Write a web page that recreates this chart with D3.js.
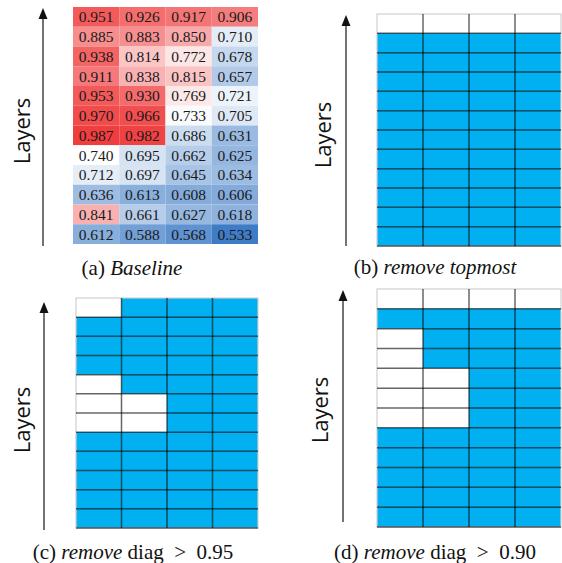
<!DOCTYPE html>
<html>
<head>
<meta charset="utf-8">
<script src="https://cdn.jsdelivr.net/npm/d3@7"></script>
<style>
  body { margin: 0; background: #fff; }
  svg { display: block; }
</style>
</head>
<body>
<div id="app"></div>
<script>
// layers from top (12) to bottom (1), four columns per layer
const layers = [12, 11, 10, 9, 8, 7, 6, 5, 4, 3, 2, 1]
const columns = ['c1', 'c2', 'c3', 'c4']

const col1 = [0.951, 0.885, 0.938, 0.911, 0.953, 0.970, 0.987, 0.740, 0.712, 0.636, 0.841, 0.612]
const col2 = [0.926, 0.883, 0.814, 0.838, 0.930, 0.966, 0.982, 0.695, 0.697, 0.613, 0.661, 0.588]
const col3 = [0.917, 0.850, 0.772, 0.815, 0.769, 0.733, 0.686, 0.662, 0.645, 0.608, 0.627, 0.568]
const col4 = [0.906, 0.710, 0.678, 0.657, 0.721, 0.705, 0.631, 0.625, 0.634, 0.606, 0.618, 0.533]

const thresholds = [0.95, 0.90]
const topmostLayer = 12

const cells = []
layers.forEach((layer, i) => {
  [col1, col2, col3, col4].forEach((col, j) => {
    cells.push({layer, col: columns[j], value: col[i]})
  })
})

const width = 562, height = 563
const svg = d3.select('#app').append('svg')
  .attr('width', width)
  .attr('height', height)

const color = d3.scaleLinear()
  .domain([d3.min(cells, d => d.value), 0.740, d3.max(cells, d => d.value)])
  .range(['#3f7cc6', '#ffffff', '#f03e3f'])
  .clamp(true)

const serif = '"Liberation Serif", "Times New Roman", serif'

const panels = [
  {key: 'a', grid: [73, 258, 7, 244], arrow: [43, 8, 246], label: [22, 131], cap: [132, 275],
    caption: [['(a) ', 'normal'], ['Baseline', 'italic']], heat: true},
  {key: 'b', grid: [377, 561, 14, 246], arrow: [346, 15, 246], label: [323, 135], cap: [435, 274],
    caption: [['(b) ', 'normal'], ['remove topmost', 'italic']], removed: d => d.layer === topmostLayer},
  {key: 'c', grid: [76, 258, 298, 528], arrow: [44, 302, 530], label: [22, 420], cap: [133, 559],
    caption: [['(c) ', 'normal'], ['remove', 'italic'], [' diag\u2002>\u20020.95', 'normal']], removed: d => d.value > thresholds[0]},
  {key: 'd', grid: [377, 561, 289, 527], arrow: [343, 290, 522], label: [320, 410], cap: [435, 559],
    caption: [['(d) ', 'normal'], ['remove', 'italic'], [' diag\u2002>\u20020.90', 'normal']], removed: d => d.value > thresholds[1]}
]

panels.forEach(p => {
  const [x0, x1, y0, y1] = p.grid
  const x = d3.scaleBand().domain(columns).range([x0, x1])
  const y = d3.scaleBand().domain(layers).range([y0, y1])
  const g = svg.append('g').attr('class', 'panel-' + p.key)

  g.selectAll('rect.cell')
    .data(cells)
    .join('rect')
    .attr('class', 'cell')
    .attr('x', d => x(d.col))
    .attr('y', d => y(d.layer))
    .attr('width', x.bandwidth())
    .attr('height', y.bandwidth())
    .attr('fill', d => p.heat ? color(d.value) : (p.removed(d) ? '#ffffff' : '#00b0f0'))

  if (p.heat) {
    g.selectAll('text.val')
      .data(cells)
      .join('text')
      .attr('class', 'val')
      .attr('x', d => x(d.col) + x.bandwidth() / 2)
      .attr('y', d => y(d.layer) + y.bandwidth() / 2)
      .attr('dy', '0.35em')
      .attr('text-anchor', 'middle')
      .style('font-family', serif)
      .style('font-size', '15.5px')
      .attr('fill', '#1a1a1a')
      .text(d => d.value.toFixed(3))
  } else {
    // light outline round the whole grid
    g.append('rect')
      .attr('x', x0).attr('y', y0)
      .attr('width', x1 - x0).attr('height', y1 - y0)
      .attr('fill', 'none').attr('stroke', '#d0d0d0').attr('stroke-width', 1.2)
    // inner grid lines
    g.selectAll('line.v')
      .data(columns.slice(1))
      .join('line')
      .attr('x1', d => x(d)).attr('x2', d => x(d))
      .attr('y1', y0).attr('y2', y1)
      .attr('stroke', '#000').attr('stroke-opacity', 0.6).attr('stroke-width', 1.5)
    g.selectAll('line.h')
      .data(layers.slice(1).concat(['bottom']))
      .join('line')
      .attr('x1', x0).attr('x2', x1)
      .attr('y1', d => d === 'bottom' ? y1 : y(d))
      .attr('y2', d => d === 'bottom' ? y1 : y(d))
      .attr('stroke', '#000').attr('stroke-opacity', 0.6).attr('stroke-width', 1.5)
  }

  // Layers arrow
  const [ax, ayTop, ayBot] = p.arrow
  g.append('line')
    .attr('x1', ax).attr('x2', ax)
    .attr('y1', ayBot).attr('y2', ayTop + 8)
    .attr('stroke', '#444').attr('stroke-width', 1.5)
  g.append('path')
    .attr('d', d3.line()([[ax - 4.5, ayTop + 11], [ax, ayTop], [ax + 4.5, ayTop + 11]]) + 'Z')
    .attr('fill', '#111')

  g.append('text')
    .attr('transform', `translate(${p.label[0]},${p.label[1]}) rotate(-90)`)
    .attr('text-anchor', 'middle')
    .attr('dy', '0.35em')
    .style('font-family', '"Open Sans", "DejaVu Sans", sans-serif')
    .style('font-size', '22px')
    .attr('fill', '#111')
    .text('Layers')

  const cap = g.append('text')
    .attr('x', p.cap[0]).attr('y', p.cap[1])
    .attr('text-anchor', 'middle')
    .style('font-family', serif)
    .style('font-size', '21px')
    .attr('fill', '#111')
    .attr('xml:space', 'preserve')
  cap.selectAll('tspan')
    .data(p.caption)
    .join('tspan')
    .style('font-style', d => d[1])
    .text(d => d[0])
})
</script>
</body>
</html>
